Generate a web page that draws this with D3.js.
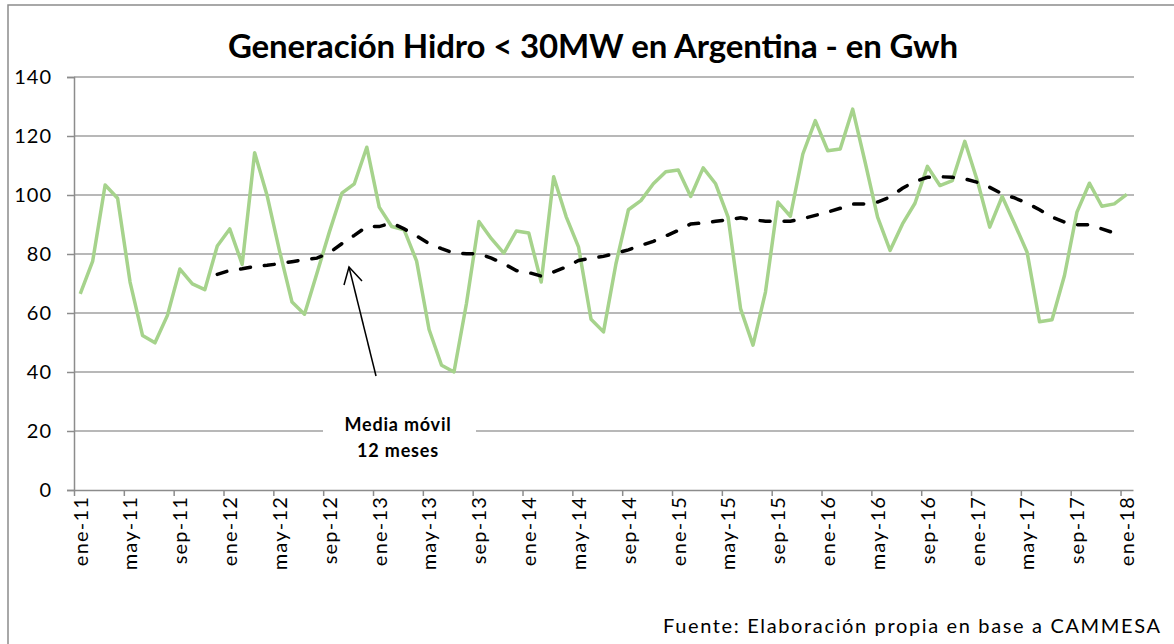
<!DOCTYPE html>
<html>
<head>
<meta charset="utf-8">
<script src="https://cdn.jsdelivr.net/npm/d3@7"></script>
<style>
  body { margin: 0; background: #fff; }
  svg { display: block; font-family: Lato, "Open Sans", sans-serif; }
</style>
</head>
<body>
<div id="chart"></div>
<script>
// Monthly generation, ene-11 .. ene-18 (GWh)
const hidro = [
  66.5, 77.6, 103.4, 98.9, 70.5, 52.4, 49.9, 59.2, 74.9, 69.9, 67.9, 82.7,
  88.5, 76.5, 114.3, 99.8, 81.0, 63.7, 59.6, 73.5, 87.5, 100.6, 103.8, 116.2,
  95.9, 89.3, 88.2, 77.6, 54.4, 42.3, 40.0, 63.2, 91.0, 85.2, 80.3, 87.8,
  87.1, 70.5, 106.2, 92.7, 82.3, 57.9, 53.6, 76.7, 95.0, 98.1, 103.8, 107.9,
  108.5, 99.5, 109.2, 103.8, 92.5, 61.5, 49.1, 67.1, 97.6, 92.8, 113.9, 125.2,
  115.0, 115.6, 129.1, 111.1, 92.5, 81.2, 90.2, 97.2, 109.7, 103.2, 104.9, 118.2,
  104.9, 89.1, 99.5, 90.2, 80.6, 57.0, 57.7, 72.7, 94.2, 104.0, 96.2, 97.0,
  100.2,
];

// 12-month moving average, starts at dic-11 (month index 11)
const mediaStart = 11;
const mediaMovil = [
  73.1, 74.4, 75.0, 75.8, 76.2, 76.7, 77.4, 78.1, 78.6, 80.4, 83.5, 86.3,
  89.3, 89.3, 90.5, 88.5, 86.1, 83.5, 81.8, 80.3, 80.1, 80.1, 78.6, 76.7,
  74.4, 73.7, 72.5, 73.9, 75.6, 77.8, 78.6, 79.2, 80.3, 81.4, 82.9, 84.3,
  86.1, 88.0, 90.2, 90.5, 91.1, 91.6, 92.3, 91.6, 91.1, 91.1, 91.1, 92.0,
  93.1, 94.2, 95.5, 96.9, 97.0, 97.6, 99.3, 102.3, 104.6, 106.0, 106.2, 106.0,
  105.5, 104.3, 102.6, 100.4, 99.0, 97.2, 95.0, 92.5, 90.8, 89.9, 89.9, 88.5,
  87.1,
];

const xTickLabels = [
  'ene-11', 'may-11', 'sep-11', 'ene-12', 'may-12', 'sep-12', 'ene-13',
  'may-13', 'sep-13', 'ene-14', 'may-14', 'sep-14', 'ene-15', 'may-15',
  'sep-15', 'ene-16', 'may-16', 'sep-16', 'ene-17', 'may-17', 'sep-17',
  'ene-18',
];
const yTicks = [0, 20, 40, 60, 80, 100, 120, 140];

const width = 1174;
const height = 644;
const plot = { left: 74, right: 1133, top: 77, bottom: 490 };

const svg = d3.select('#chart')
  .append('svg')
  .attr('width', width)
  .attr('height', height);

// outer chart border
svg.append('rect')
  .attr('x', 8).attr('y', 5)
  .attr('width', 1200).attr('height', 700)
  .attr('fill', 'none')
  .attr('stroke', '#8c8c8c')
  .attr('stroke-width', 1.5);

// month slots: one unit per month, point drawn in middle of slot
const x = d3.scaleLinear()
  .domain([0, hidro.length])
  .range([plot.left, plot.right]);

const y = d3.scaleLinear()
  .domain([0, 140])
  .range([plot.bottom, plot.top]);

// horizontal gridlines
svg.append('g')
  .selectAll('line')
  .data(yTicks.filter((t) => t > 0))
  .enter()
  .append('line')
  .attr('x1', plot.left)
  .attr('x2', plot.right + 1)
  .attr('y1', (d) => y(d))
  .attr('y2', (d) => y(d))
  .attr('stroke', '#a0a0a0')
  .attr('stroke-width', 1.5);

// y axis
const yAxis = svg.append('g')
  .attr('transform', `translate(${plot.left},0)`)
  .call(d3.axisLeft(y).tickValues(yTicks).tickSize(7).tickPadding(15));
yAxis.select('.domain').attr('stroke', '#8c8c8c').attr('stroke-width', 1.5);
yAxis.selectAll('.tick line').attr('stroke', '#8c8c8c').attr('stroke-width', 1.5);
yAxis.selectAll('.tick text')
  .attr('font-size', 20)
  .attr('letter-spacing', 1)
  .attr('font-family', 'Lato, sans-serif')
  .attr('fill', '#000');

// x axis: a tick every 4 months
const xTickVals = xTickLabels.map((_, i) => i * 4);
const xAxis = svg.append('g')
  .attr('transform', `translate(0,${plot.bottom})`)
  .call(
    d3.axisBottom(x)
      .tickValues(xTickVals)
      .tickSize(6)
      .tickSizeOuter(0)
      .tickFormat((d, i) => xTickLabels[i]),
  );
xAxis.select('.domain').attr('stroke', '#8c8c8c').attr('stroke-width', 1.5);
xAxis.selectAll('.tick line').attr('stroke', '#8c8c8c').attr('stroke-width', 1.5);
xAxis.selectAll('.tick text')
  .attr('font-size', 20)
  .attr('letter-spacing', 1.2)
  .attr('font-family', 'Lato, sans-serif')
  .attr('fill', '#000')
  .attr('text-anchor', 'end')
  .attr('dy', null)
  .attr('y', 0)
  .attr('transform', 'translate(8,6) rotate(-90)')
  .attr('dominant-baseline', 'middle');

// green monthly line
const line = d3.line()
  .x((d, i) => x(i + 0.5))
  .y((d) => y(d));

svg.append('path')
  .datum(hidro)
  .attr('d', line)
  .attr('fill', 'none')
  .attr('stroke', '#a6d38c')
  .attr('stroke-width', 3.5)
  .attr('stroke-linejoin', 'round');

// dashed moving average
const mediaLine = d3.line()
  .x((d, i) => x(i + mediaStart + 0.5))
  .y((d) => y(d));

svg.append('path')
  .datum(mediaMovil)
  .attr('d', mediaLine)
  .attr('fill', 'none')
  .attr('stroke', '#000')
  .attr('stroke-width', 3.5)
  .attr('stroke-dasharray', '10,14')
  .attr('stroke-linecap', 'round');

// title
svg.append('text')
  .attr('x', 593)
  .attr('y', 58)
  .attr('text-anchor', 'middle')
  .attr('font-size', 33)
  .attr('font-weight', 'bold')
  .attr('font-family', 'Lato, sans-serif')
  .attr('fill', '#000')
  .attr('textLength', 730)
  .attr('lengthAdjust', 'spacing')
  .text('Generación Hidro < 30MW en Argentina - en Gwh');

// annotation box + text
svg.append('rect')
  .attr('x', 323).attr('y', 408)
  .attr('width', 153).attr('height', 56)
  .attr('fill', '#fff');

const note = svg.append('text')
  .attr('text-anchor', 'middle')
  .attr('font-size', 18)
  .attr('letter-spacing', 0.8)
  .attr('font-weight', 'bold')
  .attr('font-family', 'Lato, sans-serif')
  .attr('fill', '#000');
note.append('tspan').attr('x', 398).attr('y', 431).text('Media móvil');
note.append('tspan').attr('x', 398).attr('y', 457).text('12 meses');

// arrow pointing at the moving average
const arrow = svg.append('g')
  .attr('stroke', '#000')
  .attr('stroke-width', 1.5)
  .attr('fill', 'none');
arrow.append('line')
  .attr('x1', 376).attr('y1', 376)
  .attr('x2', 349).attr('y2', 267);
arrow.append('polyline')
  .attr('points', '344,285 349,267 362,281');

// source note
svg.append('text')
  .attr('x', 1160)
  .attr('y', 633)
  .attr('text-anchor', 'end')
  .attr('font-size', 20)
  .attr('font-family', 'Lato, sans-serif')
  .attr('fill', '#000')
  .attr('textLength', 497)
  .attr('lengthAdjust', 'spacing')
  .text('Fuente: Elaboración propia en base a CAMMESA');
</script>
</body>
</html>
